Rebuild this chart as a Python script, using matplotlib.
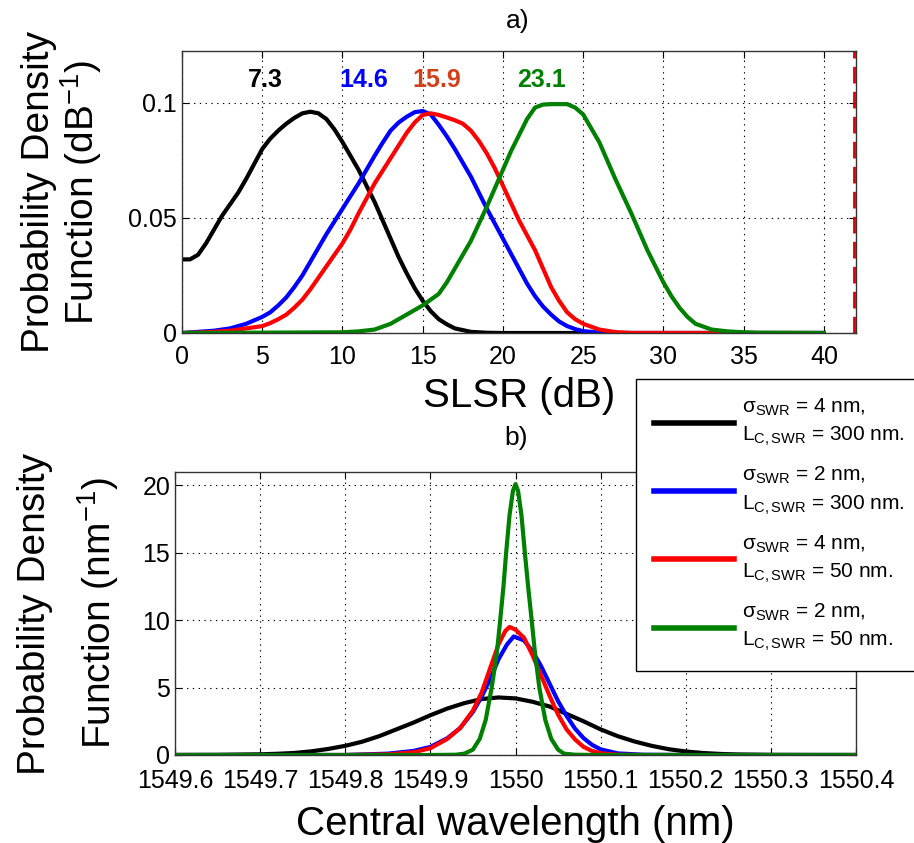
#!/usr/bin/env python3
"""
SLSR and central wavelength PDFs for four sidewall roughness cases.
a) PDF of SLSR (dB), b) PDF of the central wavelength (nm).
"""

import matplotlib
matplotlib.use('Agg')
import matplotlib.pyplot as plt

plt.rcParams['font.family'] = ['Liberation Sans', 'DejaVu Sans']
plt.rcParams['mathtext.fontset'] = 'custom'
plt.rcParams['mathtext.rm'] = 'Liberation Sans'
plt.rcParams['mathtext.it'] = 'Liberation Sans:italic'
plt.rcParams['mathtext.default'] = 'regular'

# ---- a) SLSR PDFs ----
slsr_black_x = [0, 0.5, 1, 1.5, 2, 2.5, 3, 3.5, 4, 4.5, 5, 5.5, 6, 6.5, 7, 7.5, 8, 8.5, 9,
                9.5, 10, 10.5, 11, 11.5, 12, 12.5, 13, 13.5, 14, 14.5, 15, 15.5, 16, 16.5,
                17, 18, 19, 20, 40]
slsr_black_y = [0.032, 0.032, 0.034, 0.039, 0.045, 0.051, 0.056, 0.061, 0.067, 0.0735, 0.080,
                0.0845, 0.088, 0.091, 0.0935, 0.0955, 0.0962, 0.0955, 0.093, 0.0885, 0.083,
                0.077, 0.071, 0.064, 0.057, 0.049, 0.041, 0.033, 0.026, 0.0195, 0.014, 0.0095,
                0.006, 0.0038, 0.002, 0.0005, 0.0001, 0, 0]

slsr_blue_x = [0, 1, 2, 3, 4, 5, 5.5, 6, 6.5, 7, 7.5, 8, 8.5, 9, 9.5, 10, 10.5, 11, 11.5, 12,
               12.5, 13, 13.5, 14, 14.5, 15, 15.5, 16, 16.5, 17, 17.5, 18, 18.5, 19, 19.5, 20,
               20.5, 21, 21.5, 22, 22.5, 23, 23.5, 24, 24.5, 25, 26, 27, 40]
slsr_blue_y = [0, 0.0005, 0.001, 0.002, 0.004, 0.007, 0.009, 0.012, 0.0155, 0.020, 0.025,
               0.031, 0.037, 0.043, 0.0485, 0.054, 0.0595, 0.065, 0.071, 0.077, 0.0827, 0.088,
               0.0915, 0.094, 0.096, 0.0965, 0.095, 0.0905, 0.0855, 0.080, 0.074, 0.068,
               0.061, 0.054, 0.0475, 0.041, 0.0345, 0.028, 0.0215, 0.016, 0.0115, 0.008,
               0.005, 0.003, 0.0017, 0.0008, 0.0002, 0, 0]

slsr_red_x = [0, 1, 2, 3, 4, 5, 5.5, 6, 6.5, 7, 7.5, 8, 8.5, 9, 9.5, 10, 10.5, 11, 11.5, 12,
              12.5, 13, 13.5, 14, 14.5, 15, 15.5, 16, 16.5, 17, 17.5, 18, 18.5, 19, 19.5, 20,
              20.5, 21, 21.5, 22, 22.5, 23, 23.5, 24, 24.5, 25, 26, 27, 28, 40]
slsr_red_y = [0, 0.0002, 0.0005, 0.001, 0.002, 0.003, 0.0043, 0.006, 0.008, 0.011, 0.0145,
              0.019, 0.024, 0.029, 0.034, 0.039, 0.045, 0.052, 0.0585, 0.065, 0.0705, 0.076,
              0.0815, 0.087, 0.0915, 0.0948, 0.0955, 0.0948, 0.0937, 0.0925, 0.091, 0.088,
              0.0835, 0.078, 0.0715, 0.064, 0.0565, 0.049, 0.0425, 0.036, 0.028, 0.020,
              0.014, 0.009, 0.006, 0.004, 0.0015, 0.0004, 0, 0]

slsr_green_x = [0, 10, 11, 12, 13, 14, 15, 15.5, 16, 16.5, 17, 17.5, 18, 18.5, 19, 19.5, 20,
                20.5, 21, 21.5, 22, 22.5, 23, 23.5, 24, 24.5, 25, 25.5, 26, 26.5, 27, 27.5,
                28, 28.5, 29, 29.5, 30, 30.5, 31, 31.5, 32, 33, 34, 35, 36, 40]
slsr_green_y = [0, 0.0003, 0.0007, 0.0015, 0.004, 0.008, 0.012, 0.0145, 0.017, 0.022, 0.028,
                0.034, 0.040, 0.0475, 0.055, 0.063, 0.071, 0.079, 0.086, 0.093, 0.098, 0.0993,
                0.0995, 0.0995, 0.0995, 0.098, 0.095, 0.089, 0.083, 0.075, 0.067, 0.0595,
                0.052, 0.044, 0.036, 0.029, 0.022, 0.016, 0.011, 0.007, 0.004, 0.0015, 0.0007,
                0.0003, 0.0001, 0]

slsr_labels = ['7.3', '14.6', '15.9', '23.1']
slsr_label_x = [5.2, 11.3, 15.9, 22.4]
slsr_label_y = 0.110
slsr_limit = 41.9   # red dashed line

# ---- b) central wavelength PDFs ----
wl_black_x = [1549.6, 1549.65, 1549.7, 1549.72, 1549.74, 1549.76, 1549.78, 1549.8, 1549.82,
              1549.84, 1549.86, 1549.88, 1549.9, 1549.92, 1549.94, 1549.96, 1549.98, 1550.0,
              1550.02, 1550.04, 1550.06, 1550.08, 1550.1, 1550.12, 1550.14, 1550.16, 1550.18,
              1550.2, 1550.22, 1550.24, 1550.26, 1550.3, 1550.35, 1550.4]
wl_black_y = [0, 0.01, 0.05, 0.09, 0.15, 0.27, 0.45, 0.68, 0.99, 1.4, 1.9, 2.4, 2.95, 3.45,
              3.85, 4.15, 4.27, 4.2, 3.95, 3.6, 3.05, 2.5, 1.9, 1.4, 1.0, 0.68, 0.43, 0.26,
              0.15, 0.08, 0.04, 0.008, 0.001, 0]

wl_blue_x = [1549.6, 1549.8, 1549.85, 1549.88, 1549.9, 1549.92, 1549.935, 1549.95, 1549.96,
             1549.97, 1549.98, 1549.99, 1549.998, 1550.01, 1550.02, 1550.03, 1550.04, 1550.05,
             1550.06, 1550.07, 1550.08, 1550.09, 1550.1, 1550.12, 1550.15, 1550.2, 1550.4]
wl_blue_y = [0, 0, 0.1, 0.3, 0.6, 1.25, 2.0, 3.2, 4.3, 5.6, 7.1, 8.2, 8.8, 8.5, 7.7, 6.6, 5.3,
             4.0, 2.9, 1.95, 1.25, 0.75, 0.42, 0.12, 0.02, 0, 0]

wl_red_x = [1549.6, 1549.8, 1549.85, 1549.88, 1549.9, 1549.92, 1549.935, 1549.95, 1549.96,
            1549.97, 1549.98, 1549.988, 1549.993, 1550.0, 1550.01, 1550.02, 1550.03, 1550.04,
            1550.05, 1550.06, 1550.07, 1550.08, 1550.09, 1550.1, 1550.12, 1550.15, 1550.4]
wl_red_y = [0, 0, 0.05, 0.2, 0.5, 1.2, 2.0, 3.3, 4.6, 6.4, 8.2, 9.2, 9.5, 9.3, 8.7, 7.4, 5.9,
            4.4, 3.0, 1.9, 1.15, 0.6, 0.3, 0.13, 0.02, 0, 0]

wl_green_x = [1549.6, 1549.9, 1549.93, 1549.94, 1549.95, 1549.958, 1549.965, 1549.972,
              1549.978, 1549.982, 1549.986, 1549.989, 1549.993, 1549.997, 1550.0, 1550.003,
              1550.007, 1550.011, 1550.015, 1550.019, 1550.023, 1550.028, 1550.035, 1550.042,
              1550.05, 1550.057, 1550.07, 1550.1, 1550.4]
wl_green_y = [0, 0, 0.02, 0.1, 0.4, 1.2, 2.6, 5.0, 7.5, 10.0, 12.6, 15.0, 17.8, 19.6, 20.1,
              19.6, 17.8, 15.0, 12.4, 10.0, 7.5, 5.0, 2.6, 1.2, 0.4, 0.1, 0.02, 0, 0]

wl_ticks = [1549.6, 1549.7, 1549.8, 1549.9, 1550.0, 1550.1, 1550.2, 1550.3, 1550.4]
wl_ticklabels = ['1549.6', '1549.7', '1549.8', '1549.9', '1550', '1550.1', '1550.2',
                 '1550.3', '1550.4']

legend_labels = [
    '$\\sigma_{SWR}$ = 4 nm,\nL$_{C,SWR}$ = 300 nm.',
    '$\\sigma_{SWR}$ = 2 nm,\nL$_{C,SWR}$ = 300 nm.',
    '$\\sigma_{SWR}$ = 4 nm,\nL$_{C,SWR}$ = 50 nm.',
    '$\\sigma_{SWR}$ = 2 nm,\nL$_{C,SWR}$ = 50 nm.',
]

colors = ['black', '#0000ff', '#ff0000', '#008000']
label_colors = ['black', '#0000ff', '#d2401a', '#008000']
LW = 3.0
W, H = 914, 843


def style_axes(ax):
    """MATLAB-like box, inward ticks and dotted grid."""
    ax.tick_params(direction='in', top=True, right=True, length=5, labelsize=18)
    ax.grid(True, color='black', linestyle=(0, (1.2, 4)), linewidth=0.8)
    for s in ax.spines.values():
        s.set_linewidth(1.0)
        s.set_color('#333333')


fig = plt.figure(figsize=(W / 100, H / 100), dpi=100)

# a) SLSR
ax1 = fig.add_axes([182 / W, 1 - 333 / H, (856 - 182) / W, (333 - 51) / H])
for xs, ys, c in [(slsr_black_x, slsr_black_y, colors[0]),
                  (slsr_blue_x, slsr_blue_y, colors[1]),
                  (slsr_red_x, slsr_red_y, colors[2]),
                  (slsr_green_x, slsr_green_y, colors[3])]:
    ax1.plot(xs, ys, color=c, linewidth=LW, solid_joinstyle='round')
ax1.axvline(slsr_limit, color='#dd0000', linewidth=2, linestyle=(0, (6, 3)))
for txt, x, c in zip(slsr_labels, slsr_label_x, label_colors):
    ax1.text(x, slsr_label_y, txt, ha='center', va='center', fontsize=18,
             fontweight='bold', color=c)
ax1.set_xlim(0, 42)
ax1.set_ylim(0, 0.1226)
ax1.set_xticks(range(0, 41, 5))
ax1.set_yticks([0, 0.05, 0.1])
ax1.set_yticklabels(['0', '0.05', '0.1'])
style_axes(ax1)
ax1.tick_params(axis='x', pad=9)
ax1.set_xlabel('SLSR (dB)', fontsize=29)
ax1.xaxis.set_label_coords(0.5, -0.155)
ax1.set_ylabel('Probability Density\nFunction (dB$^{-1}$)', fontsize=28, linespacing=1.05)
ax1.yaxis.set_label_coords(-0.115, 0.5)
fig.text(518 / W, 1 - 21 / H, 'a)', ha='center', va='center', fontsize=19)

# b) central wavelength
ax2 = fig.add_axes([175 / W, 1 - 755 / H, (856 - 175) / W, (755 - 472) / H])
lines = []
for xs, ys, c, lab in [(wl_black_x, wl_black_y, colors[0], legend_labels[0]),
                       (wl_blue_x, wl_blue_y, colors[1], legend_labels[1]),
                       (wl_red_x, wl_red_y, colors[2], legend_labels[2]),
                       (wl_green_x, wl_green_y, colors[3], legend_labels[3])]:
    ln, = ax2.plot(xs, ys, color=c, linewidth=LW, label=lab, solid_joinstyle='round')
    lines.append(ln)
ax2.set_xlim(1549.6, 1550.4)
ax2.set_ylim(0, 21)
ax2.set_xticks(wl_ticks)
ax2.set_xticklabels(wl_ticklabels)
ax2.set_yticks([0, 5, 10, 15, 20])
style_axes(ax2)
ax2.tick_params(axis='x', pad=10)
ax2.set_xlabel('Central wavelength (nm)', fontsize=29)
ax2.xaxis.set_label_coords(0.5, -0.175)
ax2.set_ylabel('Probability Density\nFunction (nm$^{-1}$)', fontsize=28, linespacing=1.6)
ax2.yaxis.set_label_coords(-0.08, 0.5)
fig.text(516 / W, 1 - 438 / H, 'b)', ha='center', va='center', fontsize=19)

# legend sits across both panels
leg = fig.legend(handles=lines, loc='upper left', bbox_to_anchor=(636 / W, 1 - 379 / H),
                 fontsize=15, handlelength=3.85, handletextpad=0.4, borderpad=0.85,
                 labelspacing=0.8, borderaxespad=0, fancybox=False, framealpha=1,
                 edgecolor='black')
leg.get_frame().set_linewidth(1.0)
for t in leg.get_texts():
    t.set_linespacing(1.45)
for h in leg.legend_handles:
    h.set_linewidth(4)

fig.savefig('out.png', dpi=100, facecolor='white')
